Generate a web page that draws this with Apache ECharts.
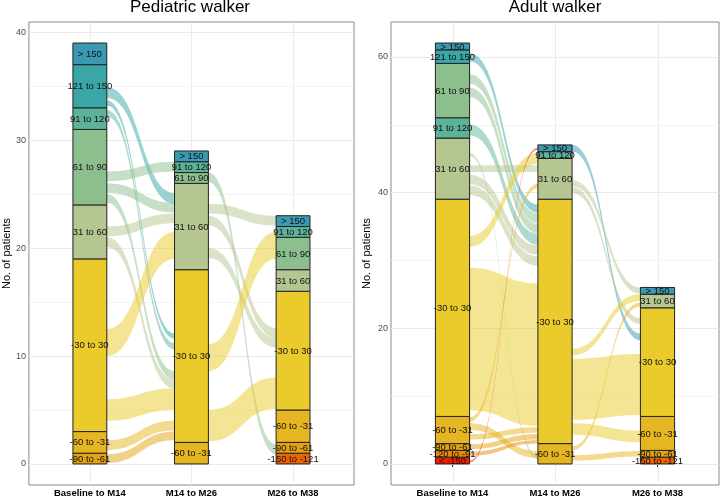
<!DOCTYPE html>
<html><head><meta charset="utf-8">
<script src="https://cdn.jsdelivr.net/npm/echarts@6/dist/echarts.min.js"></script>
<style>html,body{margin:0;padding:0;background:#fff}#c{width:720px;height:498px}</style>
</head><body><div id="c"></div>
<script>
// ---------- DATA ----------
const categories = ['Baseline to M14', 'M14 to M26', 'M26 to M38'];

// Pediatric walker: strata bottom -> top, counts per time axis
const pedStrata   = ['-150 to -121', '-90 to -61', '-60 to -31', '-30 to 30', '31 to 60', '61 to 90', '91 to 120', '121 to 150', '> 150'];
const pedBaseline = [null, 1, 2, 16, 5, 7, 2, 4, 2];
const pedM14      = [null, null, 2, 16, 8, 1, 1, null, 1];
const pedM26      = [1, 1, 3, 11, 2, 3, 1, null, 1];

// Adult walker
const adultStrata   = ['< -150', '-150 to -121', '-120 to -91', '-90 to -61', '-60 to -31', '-30 to 30', '31 to 60', '91 to 120', '61 to 90', '121 to 150', '> 150'];
const adultBaseline = [1, null, 1, 1, 4, 32, 9, 3, 8, 2, 1];
const adultM14      = [null, null, null, null, 3, 36, 6, 1, null, null, 1];
const adultM26      = [null, 1, null, 1, 5, 16, 2, null, null, null, 1];

// Flows: [from axis, stratum (colour), from low, from high, to low, to high]  (patients)
const pedFlows = [
  [0, '121 to 150', 33.9, 34.9, 24.1, 25.1],
  [0, '121 to 150', 33.2, 33.7, 11.6, 12.1],
  [0, '91 to 120',  32.2, 32.8, 10.6, 11.2],
  [0, '61 to 90',   26.2, 27.1, 27.1, 28.0],
  [0, '61 to 90',   25.1, 26.0, 23.3, 24.2],
  [0, '61 to 90',   24.2, 25.0, 7.8, 8.6],
  [0, '31 to 60',   21.1, 22.0, 22.3, 23.2],
  [0, '31 to 60',   20.1, 21.0, 7.0, 7.8],
  [0, '-30 to 30',  10.0, 12.5, 19.0, 21.5],
  [0, '-30 to 30',  4.0, 6.0, 5.0, 7.0],
  [0, '-60 to -31', 1.3, 2.2, 3.1, 4.0],
  [0, '-90 to -61', 0.1, 0.9, 2.2, 3.0],
  [1, '61 to 90',   26.1, 27.0, 0.9, 1.8],
  [1, '31 to 60',   23.2, 24.1, 22.1, 23.0],
  [1, '31 to 60',   22.1, 23.0, 11.7, 12.6],
  [1, '31 to 60',   19.1, 20.0, 10.8, 11.7],
  [1, '-30 to 30',  8.6, 11.1, 19.0, 21.5],
  [1, '-30 to 30',  2.1, 5.0, 5.1, 8.0]
];
const adultFlows = [
  [0, '121 to 150', 59.3, 60.5, 37.0, 38.2],
  [0, '61 to 90',   56.0, 57.4, 35.5, 36.9],
  [0, '61 to 90',   54.0, 55.4, 34.0, 35.4],
  [0, '91 to 120',  48.4, 50.0, 32.3, 33.9],
  [0, '31 to 60',   43.0, 44.0, 43.0, 44.0],
  [0, '31 to 60',   41.2, 42.6, 30.8, 32.2],
  [0, '31 to 60',   39.6, 41.0, 29.2, 30.6],
  [0, '31 to 60',   45.3, 45.8, 0.7, 1.2],
  [0, '-30 to 30',  32.0, 33.6, 44.2, 45.8],
  [0, '-30 to 30',  7.9, 28.9, 5.6, 26.6],
  [0, '-60 to -31', 6.2, 6.9, 40.6, 41.3],
  [0, '-60 to -31', 5.0, 6.0, 0.9, 1.9],
  [0, '-60 to -31', 3.6, 4.4, 4.6, 5.4],
  [0, '-90 to -61', 2.2, 2.9, 3.6, 4.4],
  [0, '-120 to -91', 1.2, 1.8, 3.0, 3.5],
  [0, '< -150',     0.2, 0.5, 46.3, 46.6],
  [1, '> 150',      46.0, 47.0, 18.2, 19.2],
  [1, '31 to 60',   40.9, 41.8, 25.1, 26.0],
  [1, '31 to 60',   39.9, 40.8, 20.6, 21.5],
  [1, '-30 to 30',  16.0, 17.0, 24.0, 25.0],
  [1, '-60 to -31', 2.0, 2.6, 23.2, 23.8],
  [1, '-30 to 30',  6.5, 15.5, 7.2, 16.2],
  [1, '-30 to 30',  4.3, 6.0, 3.2, 4.9],
  [1, '-60 to -31', 0.5, 1.3, 1.1, 1.9]
];

const pedYTicks = [0, 10, 20, 30, 40];
const pedYMinor = [5, 15, 25, 35];
const adultYTicks = [0, 20, 40, 60];
const adultYMinor = [10, 30, 50];
const xTicks = [0, 1, 2];

// ---------- STYLE ----------
const stratumColors = {
  '> 150': '#3B9AB2', '121 to 150': '#3AA7A6', '91 to 120': '#5DB39A', '61 to 90': '#8DBF8E',
  '31 to 60': '#B5C690', '-30 to 30': '#EACB2B', '-60 to -31': '#E6B522', '-90 to -61': '#E3A212',
  '-120 to -91': '#E8890A', '-150 to -121': '#EC640A', '< -150': '#F21A00'
};
const FONT = '"Liberation Sans", Arial, Helvetica, sans-serif';
const HALF = 1 / 6;
const XMIN = -0.6, XMAX = 2.6;

function buildStrata(cols) {
  const out = [];
  cols.forEach((col, xi) => {
    let acc = 0;
    col.forEach((v, si) => {
      if (v == null) return;
      out.push([xi, acc, acc + v, si]);
      acc += v;
    });
  });
  return out;
}
function buildFlows(flows, strata) {
  return flows.map(f => [f[0], strata.indexOf(f[1]), f[2], f[3], f[4], f[5]]);
}
function strataRender(strata) {
  return function (params, api) {
    const xi = api.value(0), y0 = api.value(1), y1 = api.value(2), name = strata[api.value(3)];
    const p0 = api.coord([xi - HALF, y1]);
    const p1 = api.coord([xi + HALF, y0]);
    return {
      type: 'group', children: [
        { type: 'rect', shape: { x: p0[0], y: p0[1], width: p1[0] - p0[0], height: p1[1] - p0[1] },
          style: { fill: stratumColors[name], stroke: '#222', lineWidth: 1 } },
        { type: 'text', style: { text: name, x: (p0[0] + p1[0]) / 2, y: (p0[1] + p1[1]) / 2 + 0.5,
          align: 'center', verticalAlign: 'middle', font: '9.5px ' + FONT, fill: '#111' } }
      ]
    };
  };
}
function bez(xa, ya, xb, yb, t) {
  const k = 0.5, dx = xb - xa, mt = 1 - t;
  const x = mt * mt * mt * xa + 3 * mt * mt * t * (xa + k * dx) + 3 * mt * t * t * (xb - k * dx) + t * t * t * xb;
  const y = mt * mt * mt * ya + 3 * mt * mt * t * ya + 3 * mt * t * t * yb + t * t * t * yb;
  return [x, y];
}
function flowRender(strata) {
  return function (params, api) {
    const xi = api.value(0), name = strata[api.value(1)];
    const a0 = api.coord([xi + HALF, api.value(2)]), a1 = api.coord([xi + HALF, api.value(3)]);
    const b0 = api.coord([xi + 1 - HALF, api.value(4)]), b1 = api.coord([xi + 1 - HALF, api.value(5)]);
    const pts = [];
    const N = 40;
    for (let i = 0; i <= N; i++) pts.push(bez(a1[0], a1[1], b1[0], b1[1], i / N));
    for (let i = N; i >= 0; i--) pts.push(bez(a0[0], a0[1], b0[0], b0[1], i / N));
    return { type: 'polygon', shape: { points: pts }, style: { fill: stratumColors[name], opacity: 0.5 } };
  };
}
function hLineRender(color) {
  return function (params, api) {
    const v = api.value(0);
    const p0 = api.coord([XMIN, v]), p1 = api.coord([XMAX, v]);
    return { type: 'line', shape: { x1: p0[0], y1: Math.round(p0[1]) + 0.5, x2: p1[0], y2: Math.round(p1[1]) + 0.5 },
      style: { stroke: color, lineWidth: 1 } };
  };
}
function vLineRender(ymin, ymax) {
  return function (params, api) {
    const v = api.value(0);
    const p0 = api.coord([v, ymin]), p1 = api.coord([v, ymax]);
    return { type: 'line', shape: { x1: Math.round(p0[0]) + 0.5, y1: p0[1], x2: Math.round(p1[0]) + 0.5, y2: p1[1] },
      style: { stroke: '#ebebeb', lineWidth: 1 } };
  };
}

const grids = [
  { left: 26, right: 366, top: 22, bottom: 11, show: true, borderColor: '#8a8a8a', borderWidth: 1, backgroundColor: '#fff' },
  { left: 391, right: 1, top: 22, bottom: 11, show: true, borderColor: '#8a8a8a', borderWidth: 1, backgroundColor: '#fff' }
];
function xAxisFor(gi) {
  return {
    type: 'value', gridIndex: gi, min: XMIN, max: XMAX,
    axisLine: { show: false },
    axisTick: { show: true, length: 3, customValues: xTicks, lineStyle: { color: '#333' } },
    axisLabel: { customValues: xTicks, formatter: v => categories[Math.round(v)] || '', margin: 3,
      fontFamily: FONT, fontSize: 9.5, fontWeight: 'bold', color: '#000' },
    splitLine: { show: false }
  };
}
function yAxisFor(gi, ymin, ymax, ticks) {
  return {
    type: 'value', gridIndex: gi, min: ymin, max: ymax,
    name: 'No. of patients', nameLocation: 'middle', nameGap: gi === 0 ? 13 : 19,
    nameTextStyle: { fontFamily: FONT, fontSize: 11, color: '#000' },
    axisLine: { show: false },
    axisTick: { show: true, length: 3, customValues: ticks, lineStyle: { color: '#333' } },
    axisLabel: { customValues: ticks, margin: 3, fontFamily: FONT, fontSize: 9, color: '#4d4d4d' },
    splitLine: { show: false }
  };
}
const PED_Y = [-1.95, 40.95], AD_Y = [-3.1, 65.1];

const option = {
  animation: false,
  backgroundColor: '#fff',
  title: [
    { text: 'Pediatric walker', left: 190, top: -1, textAlign: 'center', padding: 0,
      textStyle: { fontFamily: FONT, fontSize: 17, fontWeight: 'normal', color: '#000' } },
    { text: 'Adult walker', left: 555, top: -1, textAlign: 'center', padding: 0,
      textStyle: { fontFamily: FONT, fontSize: 17, fontWeight: 'normal', color: '#000' } }
  ],
  grid: grids,
  xAxis: [xAxisFor(0), xAxisFor(1)],
  yAxis: [yAxisFor(0, PED_Y[0], PED_Y[1], pedYTicks), yAxisFor(1, AD_Y[0], AD_Y[1], adultYTicks)],
  series: [
    { type: 'custom', xAxisIndex: 0, yAxisIndex: 0, renderItem: hLineRender('#f4f4f4'), data: pedYMinor.map(v => [v]), silent: true, z: 1 },
    { type: 'custom', xAxisIndex: 1, yAxisIndex: 1, renderItem: hLineRender('#f4f4f4'), data: adultYMinor.map(v => [v]), silent: true, z: 1 },
    { type: 'custom', xAxisIndex: 0, yAxisIndex: 0, renderItem: hLineRender('#ebebeb'), data: pedYTicks.map(v => [v]), silent: true, z: 1 },
    { type: 'custom', xAxisIndex: 1, yAxisIndex: 1, renderItem: hLineRender('#ebebeb'), data: adultYTicks.map(v => [v]), silent: true, z: 1 },
    { type: 'custom', xAxisIndex: 0, yAxisIndex: 0, renderItem: vLineRender(PED_Y[0], PED_Y[1]), data: xTicks.map(v => [v]), silent: true, z: 1 },
    { type: 'custom', xAxisIndex: 1, yAxisIndex: 1, renderItem: vLineRender(AD_Y[0], AD_Y[1]), data: xTicks.map(v => [v]), silent: true, z: 1 },
    { type: 'custom', xAxisIndex: 0, yAxisIndex: 0, renderItem: flowRender(pedStrata), data: buildFlows(pedFlows, pedStrata), z: 2 },
    { type: 'custom', xAxisIndex: 1, yAxisIndex: 1, renderItem: flowRender(adultStrata), data: buildFlows(adultFlows, adultStrata), z: 2 },
    { type: 'custom', xAxisIndex: 0, yAxisIndex: 0, renderItem: strataRender(pedStrata), data: buildStrata([pedBaseline, pedM14, pedM26]), z: 3 },
    { type: 'custom', xAxisIndex: 1, yAxisIndex: 1, renderItem: strataRender(adultStrata), data: buildStrata([adultBaseline, adultM14, adultM26]), z: 3 }
  ]
};
const chart = echarts.init(document.getElementById('c'), null, { renderer: 'canvas', width: 720, height: 498 });
chart.setOption(option);
</script></body></html>
